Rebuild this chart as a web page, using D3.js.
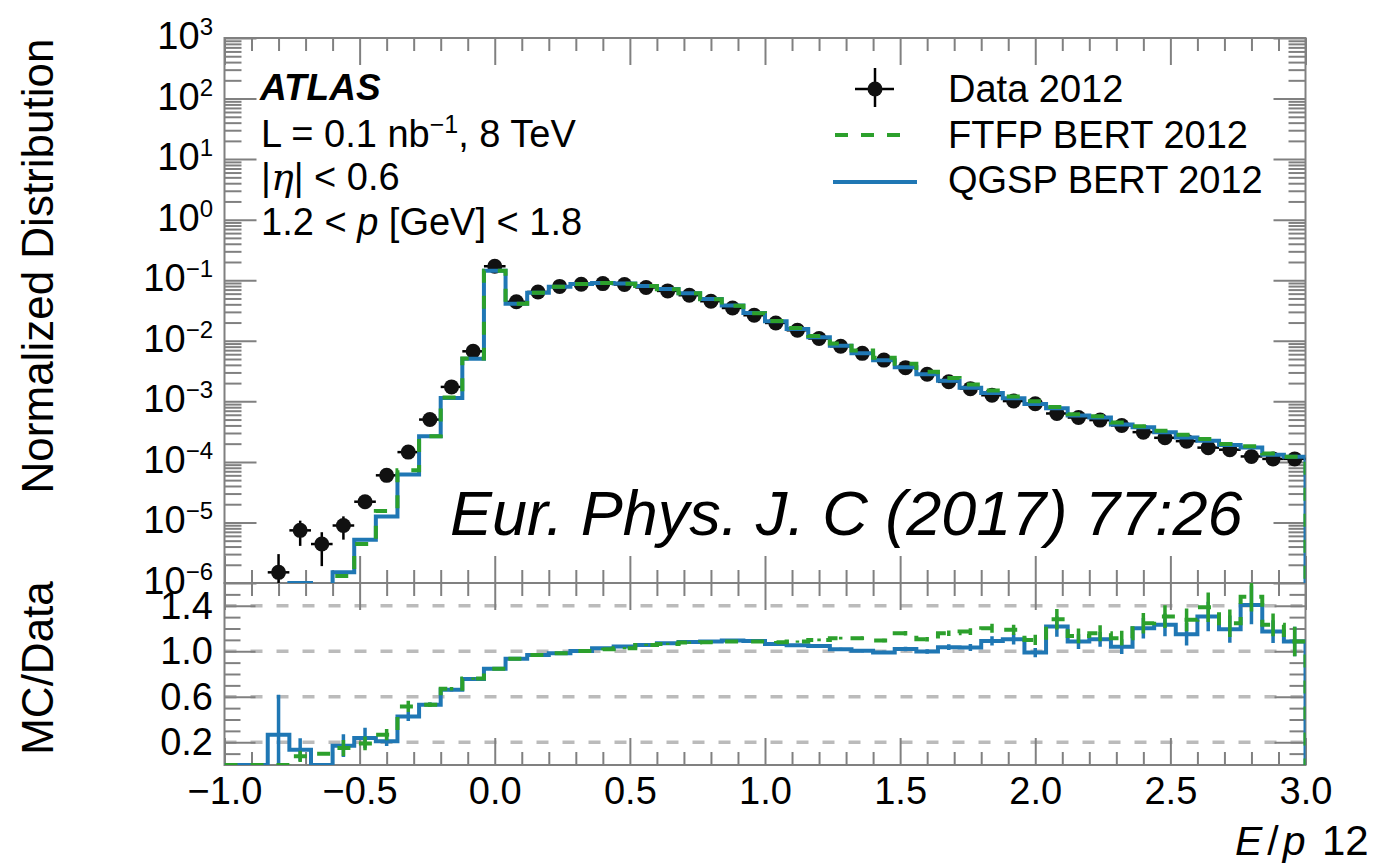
<!DOCTYPE html>
<html>
<head>
<meta charset="utf-8">
<script src="https://d3js.org/d3.v7.min.js"></script>
<style>
body { margin: 0; background: #fff; }
text { font-family: "Liberation Sans", Arial, Helvetica, sans-serif; fill: #000; }
</style>
</head>
<body>
<svg width="1387" height="865"></svg>
<script>
// bin centres of E/p (bin width 0.08, from -1.0 to 3.0)
var binCenters = [-0.96,-0.88,-0.80,-0.72,-0.64,-0.56,-0.48,-0.40,-0.32,-0.24,
  -0.16,-0.08,0.00,0.08,0.16,0.24,0.32,0.40,0.48,0.56,
  0.64,0.72,0.80,0.88,0.96,1.04,1.12,1.20,1.28,1.36,
  1.44,1.52,1.60,1.68,1.76,1.84,1.92,2.00,2.08,2.16,
  2.24,2.32,2.40,2.48,2.56,2.64,2.72,2.80,2.88,2.96];

// Data 2012 (normalized)
var dataVals = [null,null,1.5e-6,7.4e-6,4.4e-6,8.9e-6,2.2e-5,6.0e-5,1.45e-4,5.0e-4,
  1.73e-3,6.7e-3,0.17,0.044,0.064,0.079,0.086,0.088,0.085,0.076,
  0.0666,0.0565,0.045,0.0348,0.0264,0.0197,0.0149,0.0109,0.0081,0.0062,
  0.0048,0.0036,0.0028,0.0021,0.00162,0.00126,0.00101,0.00091,0.00063,0.00054,
  0.00049,0.0004,0.00031,0.00025,0.00022,0.000172,0.000159,0.000123,0.000112,0.000112];
var dataErr = [0,0,1.5e-6,3.3e-6,2.5e-6,3.7e-6,4e-6,7e-6,0,0,
  0,0,0,0,0,0,0,0,0,0, 0,0,0,0,0,0,0,0,0,0,
  0,0,0,0,0,0,0,0,0,0, 0,0,0,0,0,0,0,0,0,0];

// FTFP BERT 2012
var ftfpVals = [null,null,null,5.6e-7,4.4e-7,1.3e-6,4.4e-6,1.55e-5,7.3e-5,2.65e-4,
  1.16e-3,5.1e-3,0.144,0.041,0.062,0.0777,0.0863,0.0896,0.0873,0.0803,
  0.0709,0.0608,0.0486,0.0378,0.0286,0.0213,0.0162,0.0120,0.00903,0.00691,
  0.00525,0.00417,0.00309,0.00243,0.0019,0.00151,0.0012,0.001,0.000807,0.000613,
  0.000567,0.000446,0.000386,0.000326,0.000281,0.000239,0.000198,0.000182,0.000138,0.000122];

// QGSP BERT 2012
var qgspVals = [null,null,4.0e-7,1.0e-6,null,1.5e-6,5.2e-6,1.25e-5,6.2e-5,2.65e-4,
  1.14e-3,5.06e-3,0.144,0.041,0.062,0.0777,0.0863,0.0904,0.0886,0.0803,
  0.0713,0.0611,0.0488,0.0381,0.0288,0.0210,0.0157,0.0114,0.00825,0.00622,
  0.00475,0.00367,0.00279,0.00218,0.00167,0.00137,0.00112,0.0009,0.000767,0.000586,
  0.000541,0.000416,0.000373,0.000308,0.000253,0.000224,0.00019,0.000173,0.000131,0.000122];

// MC/Data ratios
var ftfpRatio = [0,0,0,0.076,0.10,0.15,0.19,0.267,0.515,0.53,
  0.67,0.76,0.846,0.933,0.968,0.983,1.003,1.018,1.027,1.056,
  1.064,1.076,1.08,1.085,1.085,1.08,1.085,1.1,1.115,1.115,
  1.094,1.158,1.105,1.158,1.173,1.202,1.188,1.1,1.281,1.135,
  1.158,1.115,1.246,1.305,1.276,1.387,1.246,1.48,1.232,1.085];
var ftfpRatioErr = [0,0,0,0.05,0,0.07,0.06,0.05,0.05,0.02,
  0.015,0.01,0.01,0.01,0.01,0.01,0.01,0.01,0.01,0.01,
  0.01,0.01,0.01,0.01,0.01,0.01,0.01,0.012,0.012,0.015,
  0.015,0.02,0.02,0.025,0.03,0.04,0.045,0.045,0.09,0.065,
  0.07,0.065,0.09,0.1,0.1,0.13,0.12,0.13,0.1,0.13];
var qgspRatio = [0,0,0.267,0.135,0,0.17,0.237,0.208,0.427,0.53,
  0.661,0.755,0.846,0.933,0.968,0.983,1.003,1.027,1.042,1.056,
  1.07,1.082,1.085,1.094,1.09,1.064,1.053,1.047,1.018,1.004,
  0.99,1.02,0.998,1.036,1.033,1.091,1.105,0.988,1.217,1.085,
  1.105,1.04,1.202,1.232,1.15,1.305,1.194,1.407,1.173,1.085];
var qgspRatioErr = [0,0,0.35,0.1,0,0.1,0.09,0.04,0.04,0.02,
  0.015,0.01,0.01,0.01,0.01,0.01,0.01,0.01,0.01,0.01,
  0.01,0.01,0.01,0.01,0.01,0.01,0.01,0.012,0.012,0.015,
  0.015,0.02,0.02,0.025,0.03,0.04,0.045,0.04,0.09,0.065,
  0.065,0.065,0.09,0.1,0.1,0.13,0.12,0.17,0.1,0.13];

// axis ticks and labels
var xMajor = [-1.0,-0.5,0.0,0.5,1.0,1.5,2.0,2.5,3.0];
var xMajorLabels = ["\u22121.0","\u22120.5","0.0","0.5","1.0","1.5","2.0","2.5","3.0"];
var yDecades = [-6,-5,-4,-3,-2,-1,0,1,2,3];
var ratioMajor = [0.2,0.6,1.0,1.4];
var ratioLabels = ["0.2","0.6","1.0","1.4"];

var pLeft = 224.5, pRight = 1305.5, pTop = 38, pMid = 583, pBottom = 765;
var frameColor = "#808080";
var blue = "#1f77b4", green = "#2ca02c";
var fs = 38;

var svg = d3.select("svg");

var x = d3.scaleLinear().domain([-1, 3]).range([pLeft, pRight]);
var y = d3.scaleLog().domain([1e-6, 1e3]).range([pMid, pTop]);
var yr = d3.scaleLinear().domain([0, 1.6]).range([pBottom, pMid]);

var halfBin = (binCenters[1] - binCenters[0]) / 2;

// clip paths
var defs = svg.append("defs");
defs.append("clipPath").attr("id", "clipMain").append("rect")
  .attr("x", pLeft).attr("y", pTop).attr("width", pRight - pLeft).attr("height", pMid - pTop);
defs.append("clipPath").attr("id", "clipRatio").append("rect")
  .attr("x", pLeft).attr("y", pMid).attr("width", pRight - pLeft).attr("height", pBottom - pMid);

// ratio reference lines
svg.append("g").selectAll("line").data(ratioMajor).join("line")
  .attr("x1", pLeft).attr("x2", pRight)
  .attr("y1", d => yr(d)).attr("y2", d => yr(d))
  .attr("stroke", "#bbbbbb").attr("stroke-width", 3.5).attr("stroke-dasharray", "12,14");

// frames
svg.append("rect").attr("x", pLeft).attr("y", pTop).attr("width", pRight - pLeft).attr("height", pMid - pTop)
  .attr("fill", "none").attr("stroke", frameColor).attr("stroke-width", 2);
svg.append("rect").attr("x", pLeft).attr("y", pMid).attr("width", pRight - pLeft).attr("height", pBottom - pMid)
  .attr("fill", "none").attr("stroke", frameColor).attr("stroke-width", 2);

// tick helper
function ticks(axisFn, scale, values, size, tx, ty) {
  svg.append("g").attr("transform", "translate(" + tx + "," + ty + ")")
    .call(axisFn(scale).tickValues(values).tickSizeInner(-size).tickSizeOuter(0).tickFormat(""))
    .call(g => g.select(".domain").remove())
    .call(g => g.selectAll("line").attr("stroke", frameColor).attr("stroke-width", 2));
}
var xMinor = d3.range(-9, 30).map(d => d / 10).filter(d => Math.abs(d * 2 - Math.round(d * 2)) > 1e-6);
var yMajorVals = yDecades.map(d => Math.pow(10, d));
var yMinorVals = [];
yDecades.slice(0, -1).forEach(function(d) {
  for (var m = 2; m <= 9; m++) yMinorVals.push(m * Math.pow(10, d));
});
var rMinor = d3.range(1, 16).map(d => d / 10).filter(d => ratioMajor.indexOf(d) < 0);

[[d3.axisTop, pTop], [d3.axisBottom, pMid], [d3.axisTop, pMid], [d3.axisBottom, pBottom]].forEach(function(p) {
  ticks(p[0], x, xMajor, 27, 0, p[1]);
  ticks(p[0], x, xMinor, 13, 0, p[1]);
});
ticks(d3.axisLeft, y, yMajorVals, 32, pLeft, 0);
ticks(d3.axisLeft, y, yMinorVals, 17, pLeft, 0);
ticks(d3.axisRight, y, yMajorVals, 32, pRight, 0);
ticks(d3.axisRight, y, yMinorVals, 17, pRight, 0);
ticks(d3.axisLeft, yr, ratioMajor, 31, pLeft, 0);
ticks(d3.axisLeft, yr, rMinor, 16, pLeft, 0);
ticks(d3.axisRight, yr, ratioMajor, 31, pRight, 0);
ticks(d3.axisRight, yr, rMinor, 16, pRight, 0);

// x tick labels
svg.append("g").attr("transform", "translate(0," + pBottom + ")")
  .call(d3.axisBottom(x).tickValues(xMajor).tickSize(0).tickPadding(12)
    .tickFormat((d, i) => xMajorLabels[i]))
  .call(g => g.select(".domain").remove())
  .call(g => g.selectAll("text").attr("font-size", fs)
    .attr("font-family", "Liberation Sans, Arial, sans-serif").attr("fill", "#000"));

// y tick labels (10^n)
var ylab = svg.append("g").selectAll("text").data(yDecades).join("text")
  .attr("x", 213).attr("y", d => y(Math.pow(10, d)) + 11)
  .attr("text-anchor", "end").attr("font-size", fs);
ylab.append("tspan").text("10");
ylab.append("tspan").attr("font-size", 24).attr("dy", -14)
  .text(d => d < 0 ? "\u2212" + (-d) : String(d));

// ratio tick labels
svg.append("g").selectAll("text").data(ratioMajor).join("text")
  .attr("x", 213).attr("y", d => yr(d) + 13)
  .attr("text-anchor", "end").attr("font-size", fs)
  .text((d, i) => ratioLabels[i]);

// axis titles
svg.append("text").attr("transform", "translate(53,266) rotate(-90)")
  .attr("text-anchor", "middle").attr("font-size", 44).text("Normalized Distribution");
svg.append("text").attr("transform", "translate(53,668) rotate(-90)")
  .attr("text-anchor", "middle").attr("font-size", 44).text("MC/Data");
var xt = svg.append("text").attr("x", pRight).attr("y", 855).attr("text-anchor", "end").attr("font-size", 41);
xt.append("tspan").attr("font-style", "italic").text("E");
xt.append("tspan").attr("dx", 5).text("/");
xt.append("tspan").attr("dx", 4).attr("font-style", "italic").text("p");
svg.append("text").attr("x", 1322).attr("y", 855).attr("font-size", 42)
  .attr("font-family", "Roboto, 'Liberation Sans', sans-serif").attr("font-weight", 300).text("12");

// data points (main panel)
var pts = binCenters.map((c, i) => ({c: c, v: dataVals[i], e: dataErr[i]})).filter(d => d.v != null);
var gData = svg.append("g");
gData.selectAll("line.h").data(pts).join("line").attr("class", "h")
  .attr("x1", d => x(d.c - halfBin)).attr("x2", d => x(d.c + halfBin))
  .attr("y1", d => y(d.v)).attr("y2", d => y(d.v))
  .attr("stroke", "#000").attr("stroke-width", 2.5);
gData.selectAll("line.v").data(pts.filter(d => d.e > 0)).join("line").attr("class", "v")
  .attr("x1", d => x(d.c)).attr("x2", d => x(d.c))
  .attr("y1", d => y(d.v + d.e)).attr("y2", d => Math.min(pMid, y(Math.max(d.v - d.e, 1e-9))))
  .attr("stroke", "#000").attr("stroke-width", 2.5);
gData.selectAll("circle").data(pts).join("circle")
  .attr("cx", d => x(d.c)).attr("cy", d => y(d.v)).attr("r", 7.5).attr("fill", "#111");

// histogram step builder
function stepPoints(vals, floor) {
  var p = binCenters.map((c, i) => ({x: c - halfBin, v: (vals[i] == null || vals[i] <= 0) ? floor : vals[i]}));
  var last = p[p.length - 1].v;
  var xe = binCenters[binCenters.length - 1] + halfBin;
  p.push({x: xe, v: last});
  p.push({x: xe, v: floor});
  return p;
}
var lineMain = d3.line().x(d => x(d.x)).y(d => y(d.v)).curve(d3.curveStepAfter);
var lineRatio = d3.line().x(d => x(d.x)).y(d => yr(d.v)).curve(d3.curveStepAfter);

var gMain = svg.append("g").attr("clip-path", "url(#clipMain)");
gMain.append("path").attr("d", lineMain(stepPoints(qgspVals, 1e-9)))
  .attr("fill", "none").attr("stroke", blue).attr("stroke-width", 4);
gMain.append("path").attr("d", lineMain(stepPoints(ftfpVals, 1e-9)))
  .attr("fill", "none").attr("stroke", green).attr("stroke-width", 4).attr("stroke-dasharray", "13,13");

// ratio panel
var gRatio = svg.append("g").attr("clip-path", "url(#clipRatio)");
function ratioErrors(vals, errs, color) {
  var d = binCenters.map((c, i) => ({c: c, v: vals[i], e: errs[i]})).filter(d => d.e > 0);
  gRatio.append("g").selectAll("line").data(d).join("line")
    .attr("x1", p => x(p.c)).attr("x2", p => x(p.c))
    .attr("y1", p => yr(p.v + p.e)).attr("y2", p => yr(Math.max(p.v - p.e, 0)))
    .attr("stroke", color).attr("stroke-width", 3.5);
}
ratioErrors(qgspRatio, qgspRatioErr, blue);
gRatio.append("path").attr("d", lineRatio(stepPoints(qgspRatio, 0)))
  .attr("fill", "none").attr("stroke", blue).attr("stroke-width", 4);
ratioErrors(ftfpRatio, ftfpRatioErr, green);
gRatio.append("path").attr("d", lineRatio(stepPoints(ftfpRatio, 0)))
  .attr("fill", "none").attr("stroke", green).attr("stroke-width", 4).attr("stroke-dasharray", "13,13");

// ATLAS labels
svg.append("text").attr("x", 260).attr("y", 100).attr("font-size", 37)
  .attr("font-weight", "bold").attr("font-style", "italic").text("ATLAS");
var t1 = svg.append("text").attr("x", 261).attr("y", 147).attr("font-size", fs);
t1.append("tspan").text("L = 0.1 nb");
t1.append("tspan").attr("font-size", 25).attr("dy", -14).text("\u22121");
t1.append("tspan").attr("dy", 14).text(", 8 TeV");
var t2 = svg.append("text").attr("x", 261).attr("y", 190).attr("font-size", fs);
t2.append("tspan").text("|");
t2.append("tspan").attr("font-style", "italic").attr("font-family", "'DejaVu Serif', serif").text("\u03b7");
t2.append("tspan").text("| < 0.6");
var t3 = svg.append("text").attr("x", 261).attr("y", 235).attr("font-size", fs);
t3.append("tspan").text("1.2 < ");
t3.append("tspan").attr("font-style", "italic").text("p");
t3.append("tspan").text(" [GeV] < 1.8");

// legend
var lg = svg.append("g");
lg.append("line").attr("x1", 855).attr("x2", 894).attr("y1", 89).attr("y2", 89).attr("stroke", "#000").attr("stroke-width", 2.5);
lg.append("line").attr("x1", 875).attr("x2", 875).attr("y1", 68).attr("y2", 107).attr("stroke", "#000").attr("stroke-width", 2.5);
lg.append("circle").attr("cx", 875).attr("cy", 89).attr("r", 7.5).attr("fill", "#111");
lg.append("line").attr("x1", 835).attr("x2", 902).attr("y1", 135).attr("y2", 135)
  .attr("stroke", green).attr("stroke-width", 4).attr("stroke-dasharray", "13,13");
lg.append("line").attr("x1", 833).attr("x2", 917).attr("y1", 182).attr("y2", 182)
  .attr("stroke", blue).attr("stroke-width", 4);
lg.append("text").attr("x", 948).attr("y", 102).attr("font-size", fs).text("Data 2012");
lg.append("text").attr("x", 948).attr("y", 148).attr("font-size", fs).text("FTFP BERT 2012");
lg.append("text").attr("x", 948).attr("y", 193).attr("font-size", fs).text("QGSP BERT 2012");

// journal reference
svg.append("text").attr("x", 450).attr("y", 535).attr("font-size", 63).attr("font-style", "italic")
  .text("Eur. Phys. J. C (2017) 77:26");
</script>
</body>
</html>
